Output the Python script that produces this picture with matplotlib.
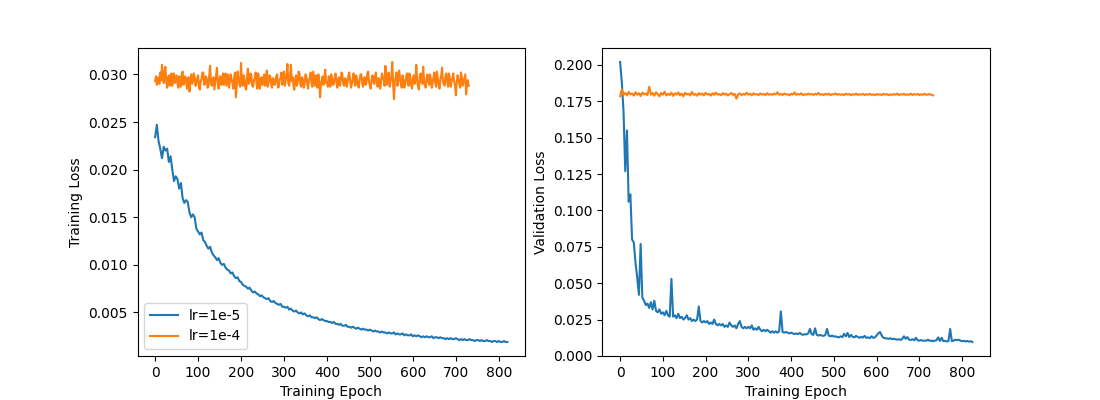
import numpy as np
import matplotlib
matplotlib.use("Agg")
import matplotlib.pyplot as plt
from matplotlib.ticker import MultipleLocator

labels = ["lr=1e-5", "lr=1e-4"]
step_coarse = 4
step_fine = 2

train_lr5 = [
    0.0234, 0.0247, 0.0230, 0.0222, 0.0212, 0.0224, 0.0220, 0.0222, 0.0208, 0.0214,
    0.0200, 0.0188, 0.0193, 0.0190, 0.0180, 0.0186, 0.0170, 0.0165, 0.0168, 0.0166,
    0.0155, 0.0150, 0.0153, 0.0150, 0.0138, 0.0135, 0.0132, 0.0134, 0.0126, 0.0124,
    0.0120,
    0.0117, 0.0119, 0.0113, 0.0110, 0.0108, 0.0105, 0.0107, 0.0102, 0.0100, 0.0101,
    0.0097, 0.0095, 0.0094, 0.0091, 0.0092, 0.0088, 0.0086, 0.0087, 0.0083, 0.0082,
    0.0079, 0.0078, 0.0077, 0.0075, 0.0076, 0.0073, 0.0071, 0.0072, 0.0070, 0.0069,
    0.0067, 0.0068, 0.0066, 0.0065, 0.0064, 0.0065, 0.0062, 0.0061, 0.0062, 0.0060,
    0.0059, 0.0058, 0.0059, 0.0056, 0.0056, 0.0055, 0.0056, 0.0053, 0.0054, 0.0052,
    0.0051, 0.0052, 0.0050, 0.0049, 0.0050, 0.0048, 0.0049, 0.0047, 0.0046, 0.0047,
    0.0045, 0.0045, 0.0044, 0.0045, 0.0043, 0.0042, 0.0043, 0.0042, 0.0041, 0.0041,
    0.0040, 0.0040, 0.0039, 0.0040, 0.0038, 0.0038, 0.0037, 0.0038, 0.0036, 0.0036,
    0.0037, 0.0035, 0.0035, 0.0034, 0.0035, 0.0034, 0.0033, 0.0034, 0.0033, 0.0032,
    0.0033, 0.0032, 0.0032, 0.0031, 0.0032, 0.0031, 0.0030, 0.0031, 0.0030, 0.0030,
    0.0029, 0.0030, 0.0029, 0.0029, 0.0028, 0.0029, 0.0028, 0.0028, 0.0029, 0.0027,
    0.0028, 0.0027, 0.0027, 0.0028, 0.0026, 0.0027, 0.0026, 0.0026, 0.0027, 0.0025,
    0.0026, 0.0025, 0.0026, 0.0025, 0.0024, 0.0025, 0.0024, 0.0025, 0.0024, 0.0024,
    0.0025, 0.0023, 0.0024, 0.0024, 0.0023, 0.0024, 0.0023, 0.0023, 0.0022, 0.0023,
    0.0022, 0.0023, 0.0022, 0.0022, 0.0023, 0.0022, 0.0021, 0.0022, 0.0021, 0.0022,
    0.0021, 0.0021, 0.0022, 0.0021, 0.0021, 0.0020, 0.0021, 0.0021, 0.0020, 0.0021,
    0.0020, 0.0020, 0.0021, 0.0020, 0.0020, 0.0019, 0.0020, 0.0020, 0.0019, 0.0020,
    0.0019, 0.0019, 0.0020, 0.0019, 0.0019,
]

train_lr4 = [
    0.0293, 0.0298, 0.0289, 0.0295, 0.0297, 0.0290, 0.0302, 0.0294, 0.0310, 0.0299,
    0.0291, 0.0303, 0.0308, 0.0292, 0.0286, 0.0296, 0.0299, 0.0288, 0.0294, 0.0301,
    0.0288, 0.0296, 0.0301, 0.0291, 0.0295, 0.0299, 0.0290, 0.0286, 0.0298, 0.0293,
    0.0287, 0.0300, 0.0303, 0.0289, 0.0292, 0.0298, 0.0296, 0.0285, 0.0289, 0.0297,
    0.0282, 0.0294, 0.0300, 0.0290, 0.0293, 0.0301, 0.0297, 0.0288, 0.0291, 0.0296,
    0.0299, 0.0287, 0.0284, 0.0293, 0.0295, 0.0302, 0.0302, 0.0289, 0.0290, 0.0298,
    0.0296, 0.0286, 0.0287, 0.0299, 0.0309, 0.0291, 0.0288, 0.0295, 0.0297, 0.0284,
    0.0292, 0.0300, 0.0307, 0.0290, 0.0285, 0.0296, 0.0298, 0.0289, 0.0293, 0.0301,
    0.0289, 0.0297, 0.0301, 0.0288, 0.0294, 0.0300, 0.0286, 0.0292, 0.0300, 0.0295,
    0.0291, 0.0285, 0.0297, 0.0302, 0.0276, 0.0290, 0.0303, 0.0296, 0.0290, 0.0287,
    0.0312, 0.0293, 0.0288, 0.0299, 0.0295, 0.0286, 0.0284, 0.0297, 0.0306, 0.0290,
    0.0292, 0.0301, 0.0299, 0.0288, 0.0287, 0.0294, 0.0296, 0.0302, 0.0290, 0.0285,
    0.0301, 0.0292, 0.0285, 0.0296, 0.0297, 0.0289, 0.0293, 0.0300, 0.0288, 0.0295,
    0.0304, 0.0287, 0.0291, 0.0299, 0.0298, 0.0290, 0.0286, 0.0296, 0.0295, 0.0289,
    0.0292, 0.0298, 0.0300, 0.0286, 0.0287, 0.0295, 0.0296, 0.0302, 0.0289, 0.0293,
    0.0303, 0.0288, 0.0294, 0.0300, 0.0311, 0.0291, 0.0288, 0.0297, 0.0310, 0.0293,
    0.0297, 0.0289, 0.0284, 0.0295, 0.0299, 0.0288, 0.0292, 0.0303, 0.0301, 0.0290,
    0.0287, 0.0297, 0.0295, 0.0286, 0.0290, 0.0300, 0.0298, 0.0291, 0.0285, 0.0294,
    0.0296, 0.0302, 0.0291, 0.0287, 0.0303, 0.0295, 0.0288, 0.0299, 0.0294, 0.0286,
    0.0300, 0.0293, 0.0276, 0.0290, 0.0293, 0.0298, 0.0289, 0.0296, 0.0305, 0.0291,
    0.0292, 0.0287, 0.0298, 0.0294, 0.0287, 0.0300, 0.0295, 0.0289, 0.0290, 0.0297,
    0.0301, 0.0292, 0.0286, 0.0295, 0.0297, 0.0288, 0.0293, 0.0302, 0.0299, 0.0290,
    0.0288, 0.0296, 0.0295, 0.0287, 0.0291, 0.0299, 0.0302, 0.0293, 0.0286, 0.0290,
    0.0296, 0.0301, 0.0292, 0.0288, 0.0299, 0.0295, 0.0289, 0.0286, 0.0294, 0.0300,
    0.0300, 0.0291, 0.0287, 0.0296, 0.0297, 0.0289, 0.0291, 0.0301, 0.0303, 0.0292,
    0.0288, 0.0285, 0.0295, 0.0299, 0.0293, 0.0290, 0.0298, 0.0302, 0.0290, 0.0287,
    0.0296, 0.0291, 0.0285, 0.0293, 0.0301, 0.0297, 0.0294, 0.0288, 0.0309, 0.0295,
    0.0289, 0.0300, 0.0302, 0.0287, 0.0292, 0.0298, 0.0313, 0.0291, 0.0274, 0.0293,
    0.0297, 0.0302, 0.0288, 0.0293, 0.0304, 0.0297, 0.0291, 0.0286, 0.0299, 0.0294,
    0.0286, 0.0290, 0.0296, 0.0301, 0.0293, 0.0288, 0.0301, 0.0297, 0.0289, 0.0285,
    0.0295, 0.0299, 0.0290, 0.0296, 0.0310, 0.0293, 0.0287, 0.0284, 0.0298, 0.0301,
    0.0292, 0.0290, 0.0308, 0.0294, 0.0288, 0.0286, 0.0296, 0.0300, 0.0293, 0.0289,
    0.0300, 0.0294, 0.0286, 0.0291, 0.0297, 0.0302, 0.0291, 0.0287, 0.0303, 0.0296,
    0.0289, 0.0285, 0.0295, 0.0299, 0.0307, 0.0292, 0.0290, 0.0288, 0.0298, 0.0301,
    0.0292, 0.0287, 0.0301, 0.0296, 0.0287, 0.0292, 0.0296, 0.0301, 0.0293, 0.0289,
    0.0278, 0.0291, 0.0299, 0.0295, 0.0290, 0.0286, 0.0302, 0.0297, 0.0288, 0.0292,
    0.0296, 0.0300, 0.0279, 0.0290, 0.0294, 0.0288,
]

val_lr5 = [
    0.202, 0.188, 0.168, 0.127, 0.155, 0.106, 0.111, 0.080, 0.078, 0.064,
    0.054, 0.042, 0.077, 0.040, 0.038, 0.035, 0.036, 0.033, 0.037, 0.032,
    0.038, 0.031, 0.030, 0.032, 0.029, 0.030, 0.028, 0.031, 0.028, 0.027,
    0.053, 0.027, 0.028, 0.026, 0.029, 0.026, 0.027, 0.025, 0.026, 0.028,
    0.025, 0.026, 0.024, 0.025, 0.024, 0.025, 0.034, 0.024, 0.023, 0.024,
    0.023, 0.024, 0.022, 0.023, 0.022, 0.025, 0.022, 0.021, 0.022, 0.021,
    0.022, 0.020, 0.021, 0.020, 0.023, 0.021, 0.020, 0.021, 0.019, 0.022,
    0.024, 0.020, 0.019, 0.020, 0.019, 0.020, 0.019, 0.021, 0.018, 0.019,
    0.018, 0.020, 0.018, 0.017, 0.018, 0.017, 0.018, 0.017, 0.016, 0.017,
    0.016, 0.017, 0.016, 0.017, 0.0306, 0.0165, 0.016, 0.0165, 0.016, 0.0155,
    0.016, 0.0155, 0.015, 0.0155, 0.015, 0.0158, 0.015, 0.0145, 0.015, 0.0148,
    0.0155, 0.0186, 0.015, 0.0145, 0.019, 0.0145, 0.014, 0.0145, 0.014, 0.0138,
    0.0145, 0.0186, 0.014, 0.0135, 0.014, 0.0133, 0.0135, 0.013, 0.0128, 0.0135,
    0.013, 0.0152, 0.0135, 0.0158, 0.013, 0.0145, 0.0132, 0.0128, 0.0138, 0.013,
    0.0125, 0.0132, 0.0126, 0.0138, 0.0124, 0.0128, 0.0122, 0.0135, 0.0125, 0.0128,
    0.0142, 0.0155, 0.0165, 0.014, 0.0125, 0.0122, 0.012, 0.0118, 0.0122, 0.0116,
    0.0118, 0.0115, 0.0112, 0.0115, 0.011, 0.0118, 0.0135, 0.0118, 0.013, 0.0112,
    0.011, 0.0115, 0.0108, 0.0125, 0.0108, 0.0105, 0.011, 0.0104, 0.0106, 0.0104,
    0.0112, 0.0104, 0.0106, 0.0102, 0.0105, 0.0108, 0.0128, 0.0103, 0.0125, 0.0102,
    0.0104, 0.010, 0.0103, 0.0185, 0.0102, 0.0105, 0.0112, 0.0108, 0.0112, 0.0105,
    0.0102, 0.0104, 0.0100, 0.0103, 0.0098, 0.0102, 0.0096,
]

val_lr4 = [
    0.1785, 0.1832, 0.1795, 0.1808, 0.1790, 0.1815, 0.1798, 0.1803, 0.1789, 0.1812,
    0.1795, 0.1806, 0.1786, 0.1810, 0.1797, 0.1804, 0.1792, 0.1850, 0.1795, 0.1808,
    0.1788, 0.1812, 0.1799, 0.1784, 0.1807, 0.1795, 0.1816, 0.1790, 0.1802, 0.1793,
    0.1809, 0.1787, 0.1805, 0.1796, 0.1811, 0.1791, 0.1803, 0.1785, 0.1808, 0.1797,
    0.1802, 0.1790, 0.1814, 0.1794, 0.1800, 0.1788, 0.1806, 0.1795, 0.1803, 0.1791,
    0.1808, 0.1797, 0.1801, 0.1789, 0.1805, 0.1794, 0.1810, 0.1796, 0.1800, 0.1792,
    0.1806, 0.1795, 0.1803, 0.1790, 0.1799, 0.1807, 0.1793, 0.1801, 0.1768, 0.1797,
    0.1804, 0.1792, 0.1800, 0.1795, 0.1809, 0.1796, 0.1802, 0.1790, 0.1805, 0.1797,
    0.1799, 0.1793, 0.1804, 0.1796, 0.1801, 0.1792, 0.1806, 0.1795, 0.1800, 0.1794,
    0.1803, 0.1797, 0.1812, 0.1795, 0.1801, 0.1793, 0.1804, 0.1796, 0.1799, 0.1791,
    0.1802, 0.1796, 0.1811, 0.1794, 0.1800, 0.1797, 0.1805, 0.1792, 0.1799, 0.1795,
    0.1803, 0.1797, 0.1800, 0.1794, 0.1802, 0.1796, 0.1808, 0.1795, 0.1799, 0.1793,
    0.1801, 0.1796, 0.1803, 0.1792, 0.1799, 0.1797, 0.1804, 0.1795, 0.1800, 0.1794,
    0.1798, 0.1793, 0.1802, 0.1796, 0.1800, 0.1792, 0.1799, 0.1795, 0.1803, 0.1794,
    0.1798, 0.1796, 0.1801, 0.1793, 0.1799, 0.1795, 0.1802, 0.1794, 0.1797, 0.1792,
    0.1800, 0.1795, 0.1798, 0.1793, 0.1801, 0.1796, 0.1799, 0.1792, 0.1797, 0.1794,
    0.1800, 0.1795, 0.1803, 0.1793, 0.1798, 0.1796, 0.1801, 0.1794, 0.1797, 0.1795,
    0.1802, 0.1794, 0.1799, 0.1796, 0.1800, 0.1793, 0.1798, 0.1795, 0.1801, 0.1794,
    0.1797, 0.1800, 0.1795, 0.1791,
]


def epochs(vals, step):
    return np.arange(len(vals)) * step


fig, (ax1, ax2) = plt.subplots(1, 2, figsize=(11, 4), dpi=100)

ax1.plot(epochs(train_lr5, step_coarse), train_lr5, label=labels[0])
ax1.plot(epochs(train_lr4, step_fine), train_lr4, label=labels[1])
ax1.set_xlabel("Training Epoch")
ax1.set_ylabel("Training Loss")
ax1.legend(loc="lower left")

ax2.plot(epochs(val_lr5, step_coarse), val_lr5, label=labels[0])
ax2.plot(epochs(val_lr4, step_coarse), val_lr4, label=labels[1])
ax2.set_xlabel("Training Epoch")
ax2.set_ylabel("Validation Loss")

for ax in (ax1, ax2):
    ax.xaxis.set_major_locator(MultipleLocator(100))

fig.savefig("out.png", dpi=100)
